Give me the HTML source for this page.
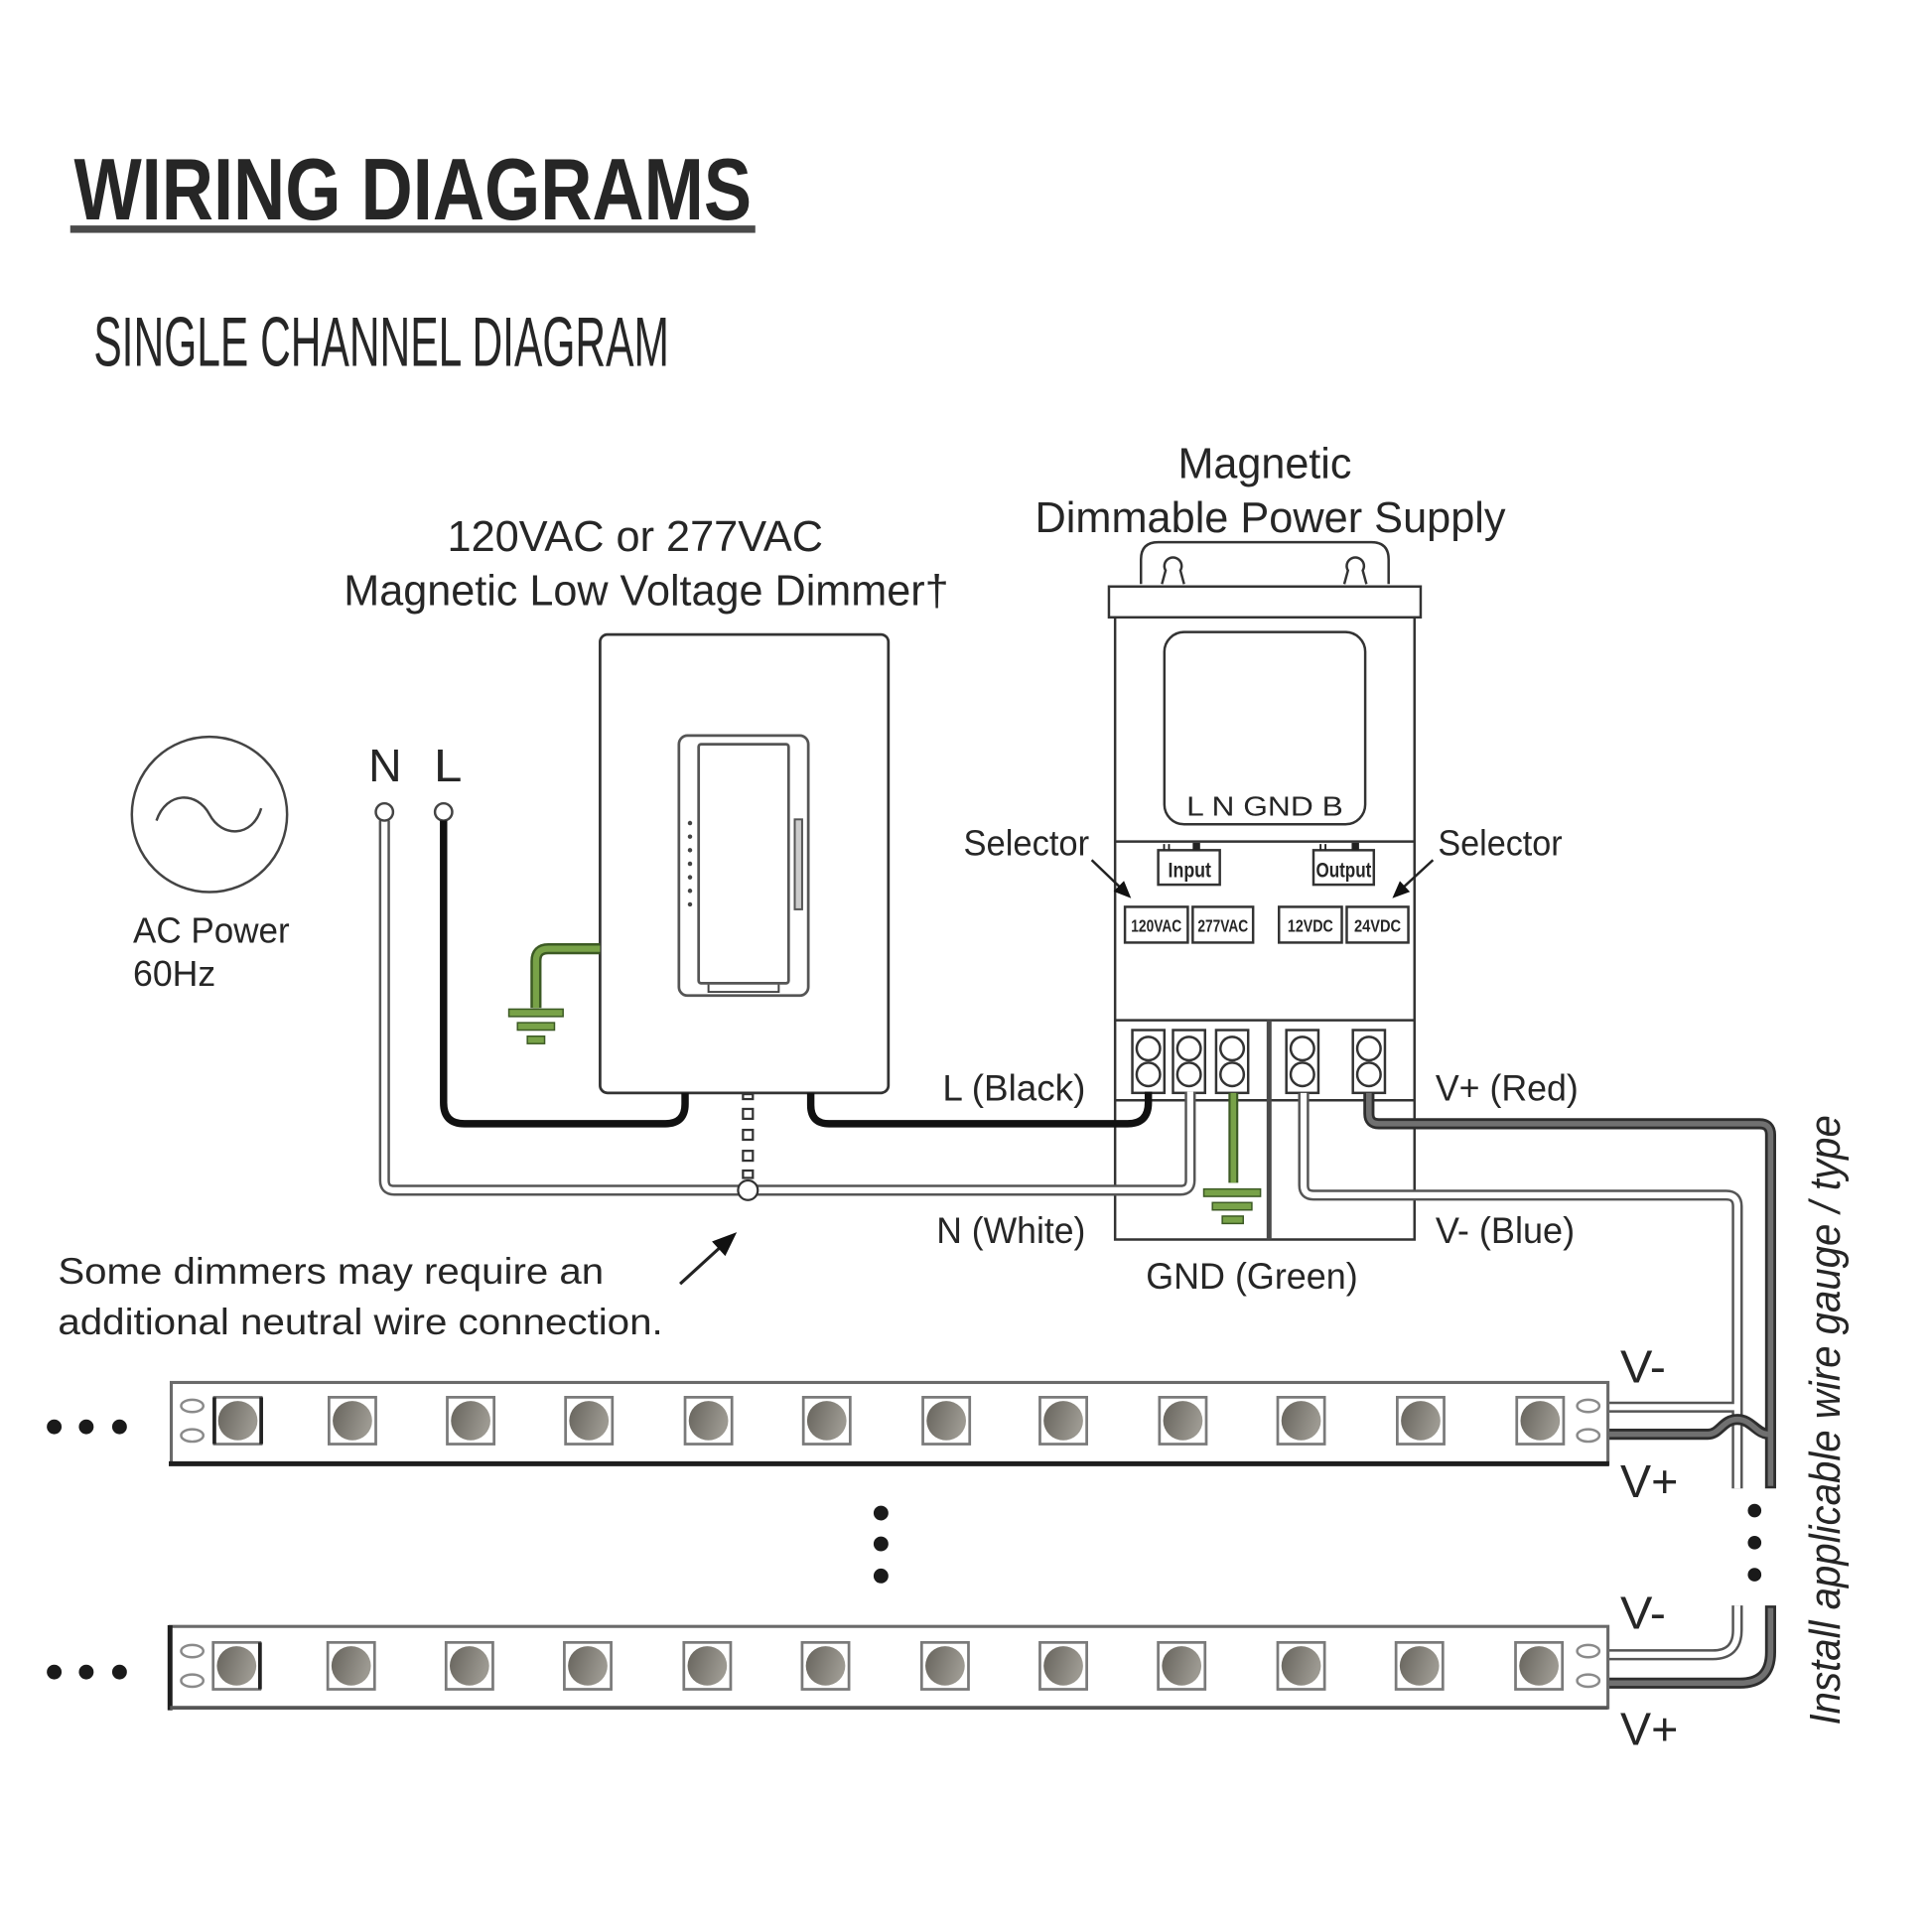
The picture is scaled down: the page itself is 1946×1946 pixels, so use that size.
<!DOCTYPE html>
<html><head><meta charset="utf-8"><style>
html,body{margin:0;padding:0;background:#fff;}
svg{display:block;}
text{font-family:"Liberation Sans",Arial,sans-serif;fill:#262626;}
</style></head><body>
<svg width="1946" height="1946" viewBox="0 0 1568 1568" xmlns="http://www.w3.org/2000/svg">
<defs>
<linearGradient id="ledg" x1="0" y1="0" x2="1" y2="0.3">
<stop offset="0" stop-color="#66635c"/><stop offset="1" stop-color="#9c9991"/>
</linearGradient>
<g id="led"><rect x="-19" y="-19" width="38" height="38" fill="#fff" stroke="#7a7a7a" stroke-width="2.2"/><circle r="16" fill="url(#ledg)"/></g>
</defs>

<!-- Titles -->
<text x="60" y="178" font-size="71" font-weight="bold" textLength="550" lengthAdjust="spacingAndGlyphs" fill="#1e1e1e">WIRING DIAGRAMS</text>
<rect x="57" y="183" width="556" height="6" fill="#4a4a4a"/>
<text x="76" y="297" font-size="57" textLength="467" lengthAdjust="spacingAndGlyphs" fill="#5c5a5c">SINGLE CHANNEL DIAGRAM</text>

<!-- Top labels -->
<text x="956" y="388" font-size="35" textLength="141" lengthAdjust="spacingAndGlyphs">Magnetic</text>
<text x="840" y="432" font-size="35" textLength="382" lengthAdjust="spacingAndGlyphs">Dimmable Power Supply</text>
<text x="363" y="447" font-size="35" textLength="305" lengthAdjust="spacingAndGlyphs">120VAC or 277VAC</text>
<text x="279" y="491" font-size="35" textLength="491" lengthAdjust="spacingAndGlyphs">Magnetic Low Voltage Dimmer†</text>

<!-- AC power -->
<circle cx="170" cy="661" r="63" fill="none" stroke="#444" stroke-width="2"/>
<path d="M127,666 C135,642 160,642 170,661 C180,680 205,680 212,656" fill="none" stroke="#444" stroke-width="2"/>
<text x="108" y="765" font-size="29" textLength="127" lengthAdjust="spacingAndGlyphs">AC Power</text>
<text x="108" y="800" font-size="29" textLength="67" lengthAdjust="spacingAndGlyphs">60Hz</text>

<!-- N L -->
<text x="299" y="634" font-size="37" textLength="27" lengthAdjust="spacingAndGlyphs">N</text>
<text x="352" y="634" font-size="37" textLength="23" lengthAdjust="spacingAndGlyphs">L</text>

<!-- PSU body -->
<g fill="none" stroke="#333" stroke-width="2">
<path d="M926,474 V454 Q926,440 940,440 H1113 Q1127,440 1127,454 V474"/>
<path d="M943,474 L946,463 A7,7 0 1 1 958,463 L961,474"/>
<path d="M1091,474 L1094,463 A7,7 0 1 1 1106,463 L1109,474"/>
<rect x="900" y="476" width="253" height="25"/>
<path d="M905,501 V1006 H1148 V501"/>
<rect x="945" y="513" width="163" height="156" rx="16"/>
<path d="M905,683 H1148"/>
<path d="M905,828 H1148"/>
<path d="M905,893 H1148"/>
<rect x="940" y="690" width="50" height="28"/>
<rect x="1066" y="690" width="49" height="28"/>
<rect x="913" y="736" width="51" height="29"/>
<rect x="968" y="736" width="49" height="29"/>
<rect x="1038" y="736" width="51" height="29"/>
<rect x="1093" y="736" width="50" height="29"/>
</g>
<path d="M1030,828 V1006" stroke="#4a4a4a" stroke-width="4"/>
<g fill="#222">
<rect x="944" y="685" width="1.5" height="5"/><rect x="948" y="685" width="1.5" height="5"/><rect x="968" y="684" width="6" height="6"/>
<rect x="1071" y="685" width="1.5" height="5"/><rect x="1075" y="685" width="1.5" height="5"/><rect x="1097" y="684" width="6" height="6"/>
</g>
<text x="963" y="662" font-size="22" textLength="127" lengthAdjust="spacingAndGlyphs">L  N  GND  B</text>
<text x="948" y="712" font-size="17" font-weight="bold" textLength="35" lengthAdjust="spacingAndGlyphs">Input</text>
<text x="1068" y="712" font-size="17" font-weight="bold" textLength="45" lengthAdjust="spacingAndGlyphs">Output</text>
<g font-size="14" font-weight="bold">
<text x="918" y="756" textLength="41" lengthAdjust="spacingAndGlyphs">120VAC</text>
<text x="972" y="756" textLength="41" lengthAdjust="spacingAndGlyphs">277VAC</text>
<text x="1045" y="756" textLength="37" lengthAdjust="spacingAndGlyphs">12VDC</text>
<text x="1099" y="756" textLength="38" lengthAdjust="spacingAndGlyphs">24VDC</text>
</g>

<!-- Terminals -->
<g fill="#fff" stroke="#333" stroke-width="2">
<rect x="919" y="836" width="26" height="51"/><circle cx="932" cy="851" r="9.5"/><circle cx="932" cy="872" r="9.5"/>
<rect x="952" y="836" width="26" height="51"/><circle cx="965" cy="851" r="9.5"/><circle cx="965" cy="872" r="9.5"/>
<rect x="987" y="836" width="26" height="51"/><circle cx="1000" cy="851" r="9.5"/><circle cx="1000" cy="872" r="9.5"/>
<rect x="1044" y="836" width="26" height="51"/><circle cx="1057" cy="851" r="9.5"/><circle cx="1057" cy="872" r="9.5"/>
<rect x="1098" y="836" width="26" height="51"/><circle cx="1111" cy="851" r="9.5"/><circle cx="1111" cy="872" r="9.5"/>
</g>

<!-- Selector labels -->
<text x="782" y="694" font-size="29" textLength="102" lengthAdjust="spacingAndGlyphs">Selector</text>
<text x="1167" y="694" font-size="29" textLength="101" lengthAdjust="spacingAndGlyphs">Selector</text>
<path d="M886,698 L910,721" stroke="#222" stroke-width="2"/>
<polygon points="918,729 903.8,723.5 912.2,714.9" fill="#111"/>
<path d="M1163,698 L1138,721" stroke="#222" stroke-width="2"/>
<polygon points="1130,729 1144.3,723.8 1136.1,715" fill="#111"/>

<!-- Dimmer -->
<g fill="none" stroke="#333" stroke-width="2.2">
<rect x="487" y="515" width="234" height="372" rx="6" fill="#fff"/>
<rect x="551" y="597" width="105" height="211" rx="7" stroke="#555"/>
<rect x="567" y="604" width="73" height="194" rx="2" stroke="#555"/>
<path d="M575,799 V805 H632 V799" stroke="#444" stroke-width="1.6"/>
<rect x="645" y="665" width="6" height="73" fill="#ccc" stroke="#555" stroke-width="1.6"/>
</g>
<g fill="#444">
<circle cx="560" cy="668" r="1.8"/><circle cx="560" cy="679" r="1.8"/><circle cx="560" cy="690" r="1.8"/><circle cx="560" cy="701" r="1.8"/><circle cx="560" cy="712" r="1.8"/><circle cx="560" cy="723" r="1.8"/><circle cx="560" cy="734" r="1.8"/>
</g>

<!-- Green ground at dimmer -->
<path d="M487,770 H445 Q435,770 435,780 V818" fill="none" stroke="#3c5a24" stroke-width="9"/>
<path d="M487,770 H445 Q435,770 435,780 V818" fill="none" stroke="#78a248" stroke-width="5"/>
<g fill="#78a248" stroke="#3c5a24" stroke-width="1.2">
<rect x="413" y="819" width="44" height="6"/><rect x="420" y="830" width="30" height="6"/><rect x="428" y="841" width="14" height="6"/>
</g>

<!-- N white wire -->
<path d="M312,666 V958 Q312,966 320,966 H958 Q966,966 966,958 V886" fill="none" stroke="#555" stroke-width="9"/>
<path d="M312,666 V958 Q312,966 320,966 H958 Q966,966 966,958 V886" fill="none" stroke="#fff" stroke-width="5"/>
<circle cx="312" cy="659" r="7" fill="#fff" stroke="#444" stroke-width="2"/>
<circle cx="360" cy="659" r="7" fill="#fff" stroke="#444" stroke-width="2"/>

<!-- L black wires -->
<path d="M360,666 V895 Q360,912 377,912 H540 Q556,912 556,896 V887" fill="none" stroke="#111" stroke-width="6"/>
<path d="M658,887 V897 Q658,912 673,912 H915 Q932,912 932,895 V886" fill="none" stroke="#111" stroke-width="6"/>

<!-- dimmer neutral dashed -->
<g fill="#fff" stroke="#333" stroke-width="1.8">
<rect x="603" y="888" width="8" height="4"/>
<rect x="603" y="900" width="8" height="8"/>
<rect x="603" y="917" width="8" height="8"/>
<rect x="603" y="934" width="8" height="8"/>
<rect x="603" y="950" width="8" height="6"/>
<circle cx="607" cy="966" r="8"/>
</g>
<path d="M552,1042 L587,1010" stroke="#222" stroke-width="2.5"/>
<polygon points="598,1000 588.6,1019.4 577.8,1007.6" fill="#111"/>
<text x="47" y="1042" font-size="30" textLength="443" lengthAdjust="spacingAndGlyphs">Some dimmers may require an</text>
<text x="47" y="1083" font-size="30" textLength="491" lengthAdjust="spacingAndGlyphs">additional neutral wire connection.</text>

<!-- GND green -->
<path d="M1001,887 V960" stroke="#3c5a24" stroke-width="8"/>
<path d="M1001,887 V960" stroke="#78a248" stroke-width="4.5"/>
<g fill="#78a248" stroke="#3c5a24" stroke-width="1.2">
<rect x="977" y="965" width="46" height="6"/><rect x="984" y="976" width="32" height="6"/><rect x="992" y="987" width="17" height="6"/>
</g>

<!-- V- wire (blue, drawn white) -->
<g fill="none" stroke="#555" stroke-width="9">
<path d="M1058,887 V962 Q1058,970 1066,970 H1401 Q1410,970 1410,979 V1208"/>
<path d="M1305,1142 H1410"/>
<path d="M1305,1343 H1390 Q1410,1343 1410,1323 V1303"/>
</g>
<g fill="none" stroke="#fff" stroke-width="5">
<path d="M1058,887 V962 Q1058,970 1066,970 H1401 Q1410,970 1410,979 V1208"/>
<path d="M1305,1142 H1408"/>
<path d="M1305,1343 H1390 Q1410,1343 1410,1323 V1303"/>
</g>

<!-- V+ wire (red, drawn gray) -->
<g fill="none" stroke="#2e2e2e" stroke-width="9">
<path d="M1111,887 V904 Q1111,912 1119,912 H1428 Q1437,912 1437,921 V1208"/>
<path d="M1305,1164 H1386 C1396,1164 1398,1152 1410,1152 C1422,1152 1425,1164 1437,1164"/>
<path d="M1305,1366 H1412 Q1437,1366 1437,1341 V1303"/>
</g>
<g fill="none" stroke="#707070" stroke-width="4.5">
<path d="M1111,887 V904 Q1111,912 1119,912 H1428 Q1437,912 1437,921 V1206"/>
<path d="M1305,1164 H1386 C1396,1164 1398,1152 1410,1152 C1422,1152 1425,1164 1435,1164"/>
<path d="M1305,1366 H1412 Q1437,1366 1437,1341 V1305"/>
</g>

<!-- Wire labels -->
<g font-size="30">
<text x="765" y="893" textLength="116" lengthAdjust="spacingAndGlyphs">L (Black)</text>
<text x="1165" y="893" textLength="116" lengthAdjust="spacingAndGlyphs">V+ (Red)</text>
<text x="760" y="1009" textLength="121" lengthAdjust="spacingAndGlyphs">N (White)</text>
<text x="1165" y="1009" textLength="113" lengthAdjust="spacingAndGlyphs">V- (Blue)</text>
<text x="930" y="1046" textLength="172" lengthAdjust="spacingAndGlyphs">GND (Green)</text>
</g>

<!-- Strip 1 -->
<rect x="139" y="1122" width="1166" height="66" fill="#fff" stroke="#6a6a6a" stroke-width="2.5"/>
<path d="M137,1188 H1306" stroke="#1e1e1e" stroke-width="4"/>
<g fill="none" stroke="#8a8a8a" stroke-width="2">
<ellipse cx="156" cy="1141" rx="9" ry="5"/><ellipse cx="156" cy="1165" rx="9" ry="5"/>
<ellipse cx="1289" cy="1141" rx="9" ry="5"/><ellipse cx="1289" cy="1165" rx="9" ry="5"/>
</g>
<use href="#led" x="193" y="1153"/><use href="#led" x="286" y="1153"/><use href="#led" x="382" y="1153"/><use href="#led" x="478" y="1153"/>
<use href="#led" x="575" y="1153"/><use href="#led" x="671" y="1153"/><use href="#led" x="768" y="1153"/><use href="#led" x="863" y="1153"/>
<use href="#led" x="960" y="1153"/><use href="#led" x="1056" y="1153"/><use href="#led" x="1153" y="1153"/><use href="#led" x="1250" y="1153"/>
<path d="M174,1134 V1172 M212,1134 V1172" stroke="#222" stroke-width="3"/>

<!-- Strip 2 -->
<rect x="138" y="1320" width="1167" height="66" fill="#fff" stroke="#6a6a6a" stroke-width="2.5"/>
<path d="M138,1319 V1388" stroke="#1e1e1e" stroke-width="4"/>
<path d="M138,1386 H1305" stroke="#555" stroke-width="3"/>
<g fill="none" stroke="#8a8a8a" stroke-width="2">
<ellipse cx="156" cy="1340" rx="9" ry="5"/><ellipse cx="156" cy="1364" rx="9" ry="5"/>
<ellipse cx="1289" cy="1340" rx="9" ry="5"/><ellipse cx="1289" cy="1364" rx="9" ry="5"/>
</g>
<use href="#led" x="192" y="1352"/><use href="#led" x="285" y="1352"/><use href="#led" x="381" y="1352"/><use href="#led" x="477" y="1352"/>
<use href="#led" x="574" y="1352"/><use href="#led" x="670" y="1352"/><use href="#led" x="767" y="1352"/><use href="#led" x="863" y="1352"/>
<use href="#led" x="959" y="1352"/><use href="#led" x="1056" y="1352"/><use href="#led" x="1152" y="1352"/><use href="#led" x="1249" y="1352"/>
<path d="M211,1333 V1371" stroke="#222" stroke-width="3"/>

<!-- dots -->
<g fill="#1a1a1a">
<circle cx="44" cy="1158" r="6"/><circle cx="70" cy="1158" r="6"/><circle cx="97" cy="1158" r="6"/>
<circle cx="44" cy="1357" r="6"/><circle cx="70" cy="1357" r="6"/><circle cx="97" cy="1357" r="6"/>
<circle cx="715" cy="1228" r="6"/><circle cx="715" cy="1253" r="6"/><circle cx="715" cy="1279" r="6"/>
<circle cx="1424" cy="1226" r="5.5"/><circle cx="1424" cy="1252" r="5.5"/><circle cx="1424" cy="1278" r="5.5"/>
</g>

<!-- V labels -->
<g font-size="37">
<text x="1315" y="1122" textLength="37" lengthAdjust="spacingAndGlyphs">V-</text>
<text x="1315" y="1215" textLength="47" lengthAdjust="spacingAndGlyphs">V+</text>
<text x="1315" y="1322" textLength="37" lengthAdjust="spacingAndGlyphs">V-</text>
<text x="1315" y="1416" textLength="47" lengthAdjust="spacingAndGlyphs">V+</text>
</g>

<!-- vertical note -->
<text transform="translate(1493,1400) rotate(-90)" font-size="35" font-style="italic" textLength="495" lengthAdjust="spacingAndGlyphs">Install applicable wire gauge / type</text>
</svg>
</body></html>
